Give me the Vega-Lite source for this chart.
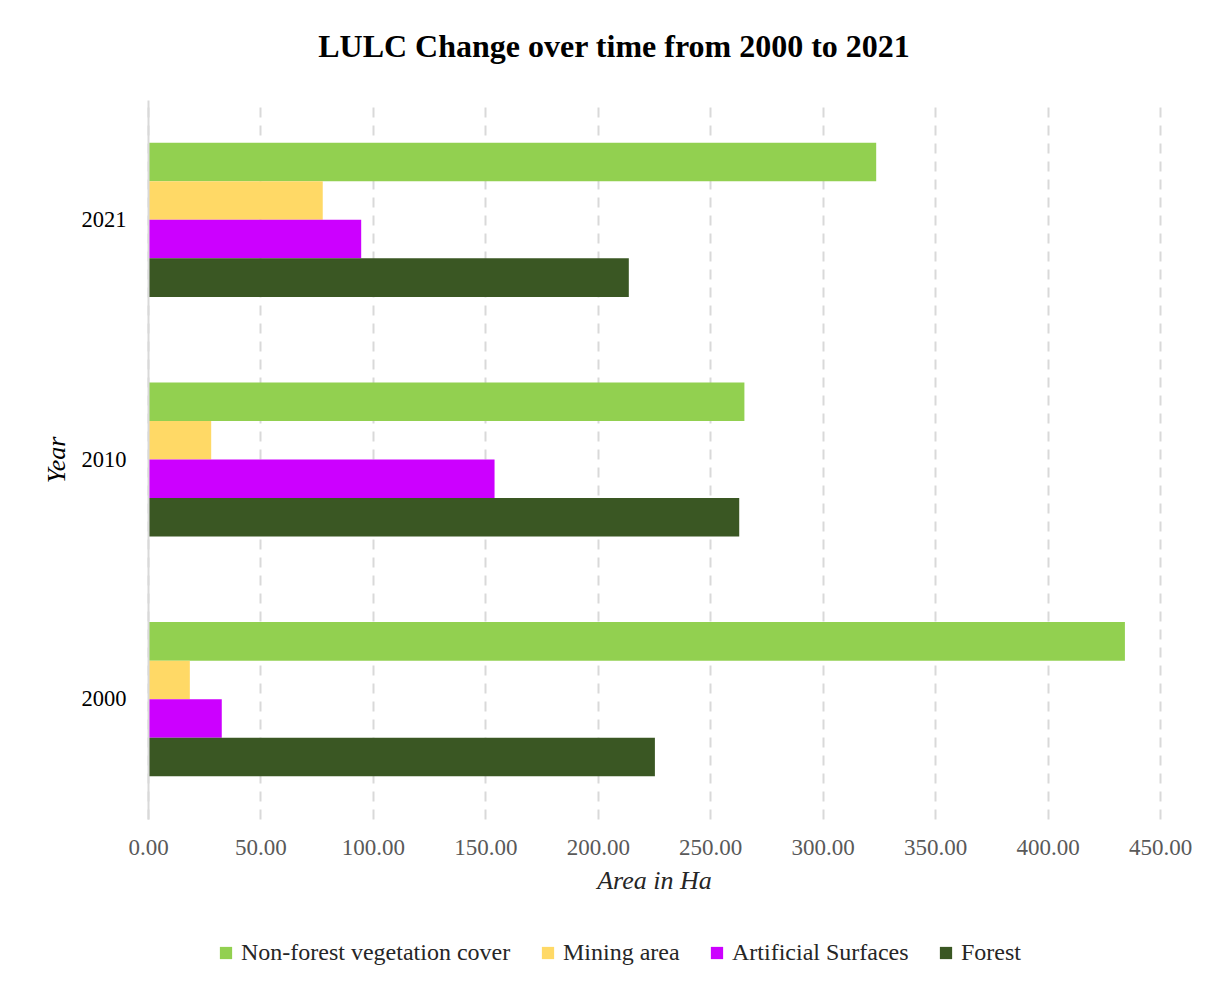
{
  "$schema": "https://vega.github.io/schema/vega-lite/v6.json",
  "autosize": {"type": "none"},
  "width": 1012,
  "height": 719,
  "padding": {"left": 148, "top": 100, "right": 61, "bottom": 166},
  "background": "white",
  "title": {
    "text": "LULC Change over time from 2000 to 2021",
    "font": "Liberation Serif",
    "fontSize": 32,
    "fontWeight": "bold",
    "color": "#000000",
    "anchor": "middle",
    "dx": -40,
    "offset": 36
  },
  "data": {
    "values": [
      {"Year": "2021", "Class": "Non-forest vegetation cover", "Area": 323.8},
      {"Year": "2021", "Class": "Mining area", "Area": 77.7},
      {"Year": "2021", "Class": "Artificial Surfaces", "Area": 94.8},
      {"Year": "2021", "Class": "Forest", "Area": 213.8},
      {"Year": "2010", "Class": "Non-forest vegetation cover", "Area": 265.2},
      {"Year": "2010", "Class": "Mining area", "Area": 28.1},
      {"Year": "2010", "Class": "Artificial Surfaces", "Area": 154.1},
      {"Year": "2010", "Class": "Forest", "Area": 262.9},
      {"Year": "2000", "Class": "Non-forest vegetation cover", "Area": 434.4},
      {"Year": "2000", "Class": "Mining area", "Area": 18.6},
      {"Year": "2000", "Class": "Artificial Surfaces", "Area": 32.8},
      {"Year": "2000", "Class": "Forest", "Area": 225.4}
    ]
  },
  "mark": {"type": "bar"},
  "encoding": {
    "y": {
      "field": "Year",
      "type": "nominal",
      "sort": ["2021", "2010", "2000"],
      "scale": {"paddingInner": 0.357, "paddingOuter": 0.1785},
      "axis": {
        "title": "Year",
        "titleFont": "Liberation Serif",
        "titleFontSize": 26,
        "titleFontStyle": "italic",
        "titleFontWeight": "normal",
        "titleColor": "#000000",
        "titlePadding": 12,
        "labelFont": "Liberation Serif",
        "labelFontSize": 22.5,
        "labelColor": "#000000",
        "labelPadding": 22,
        "ticks": false,
        "domain": true,
        "domainColor": "#d9d9d9",
        "domainWidth": 2,
        "grid": false,
        "zindex": 1
      }
    },
    "yOffset": {
      "field": "Class",
      "type": "nominal",
      "sort": ["Non-forest vegetation cover", "Mining area", "Artificial Surfaces", "Forest"],
      "scale": {"paddingInner": 0, "paddingOuter": 0}
    },
    "x": {
      "field": "Area",
      "type": "quantitative",
      "scale": {"domain": [0, 450], "nice": false},
      "axis": {
        "title": "Area in Ha",
        "titleFont": "Liberation Serif",
        "titleFontSize": 26,
        "titleFontStyle": "italic",
        "titleFontWeight": "normal",
        "titleColor": "#262626",
        "titlePadding": 8,
        "values": [0, 50, 100, 150, 200, 250, 300, 350, 400, 450],
        "format": ".2f",
        "labelFont": "Liberation Serif",
        "labelFontSize": 23,
        "labelColor": "#595959",
        "labelPadding": 17,
        "labelFlush": false,
        "labelOverlap": false,
        "ticks": false,
        "domain": false,
        "grid": true,
        "gridColor": "#d9d9d9",
        "gridWidth": 2,
        "gridDash": [10, 8],
        "zindex": 0
      }
    },
    "color": {
      "field": "Class",
      "type": "nominal",
      "scale": {
        "domain": ["Non-forest vegetation cover", "Mining area", "Artificial Surfaces", "Forest"],
        "range": ["#92d050", "#ffd966", "#cc00ff", "#3a5723"]
      },
      "legend": {
        "title": null,
        "orient": "none",
        "legendX": 66,
        "legendY": 841,
        "direction": "horizontal",
        "gridAlign": "none",
        "symbolType": "square",
        "symbolSize": 150,
        "symbolStrokeWidth": 0,
        "labelFont": "Liberation Serif",
        "labelFontSize": 24,
        "labelColor": "#262626",
        "labelOffset": 3,
        "labelLimit": 0,
        "columnPadding": 25
      }
    }
  },
  "config": {
    "view": {"stroke": null}
  }
}
